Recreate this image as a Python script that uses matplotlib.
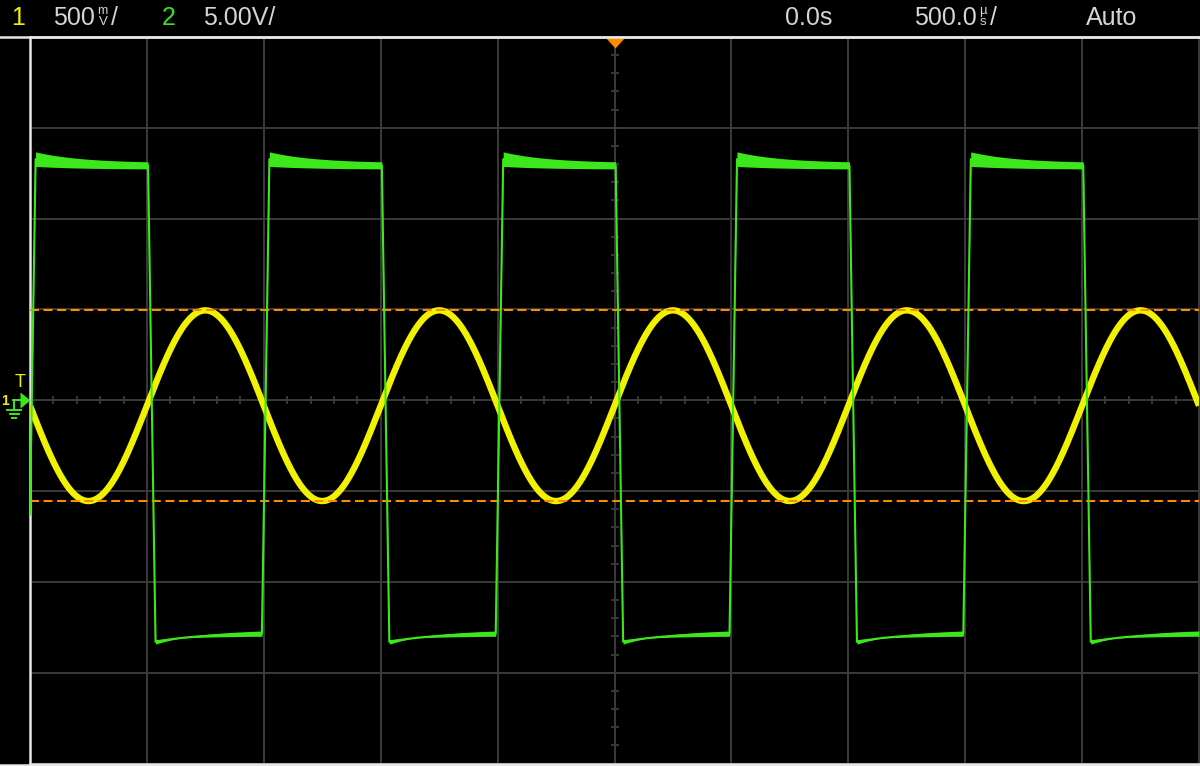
import numpy as np
import matplotlib.pyplot as plt
from matplotlib.lines import Line2D

W, H = 1200, 766

# scope settings
ch1_scale = 0.5      # V/div
ch2_scale = 5.0      # V/div
time_scale = 0.5     # ms/div
n_hdiv, n_vdiv = 10, 8

# channel 1: sine
sine_freq = 1.0          # kHz
sine_amp = 0.525         # V
sine_offset = -0.03      # V
cursor_levels = [0.495, -0.555]   # V (max / min markers)

# channel 2: comparator output (square wave)
sq_high = 12.9
sq_low = -12.8
rise_starts = [-2.508, -1.508, -0.508, 0.492, 1.492]   # ms
fall_starts = [-1.995, -0.995, 0.005, 1.005, 2.005]    # ms
edge_time = 0.032        # ms
overshoot_high = 0.6     # V
overshoot_low = 0.8      # V
settle_tau = 0.2         # ms
trace_noise = 0.035      # div, half height of the noise band

# header texts
TXT = "#d4d4d4"
header = [("1", 11, "#f0f000"), ("500", 53, TXT), ("/", 111, TXT),
          ("2", 162, "#33e61a"), ("5.00V/", 203, TXT),
          ("0.0s", 785, TXT), ("500.0", 914, TXT), ("/", 990, TXT),
          ("Auto", 1086, TXT)]

YEL = "#f2f200"
GRN = "#3ce81c"
ORG = "#ff8a00"
GRID = "#3a3a3a"
FONT = ["Liberation Sans", "DejaVu Sans"]


def fx(x):
    return x / W


def fy(y):
    return 1 - y / H


t = np.linspace(-2.5, 2.5, 20001)
ch1 = sine_amp * np.sin(2 * np.pi * sine_freq * t) + sine_offset

edge_t = np.array(rise_starts + fall_starts)
edge_d = np.array([1] * len(rise_starts) + [-1] * len(fall_starts))
order = np.argsort(edge_t)
edge_t, edge_d = edge_t[order], edge_d[order]


def square(os_scale):
    idx = np.clip(np.searchsorted(edge_t, t, side="right") - 1, 0, None)
    dt = t - edge_t[idx]
    d = edge_d[idx]
    start = np.where(d > 0, sq_low, sq_high)
    end = np.where(d > 0, sq_high, sq_low)
    os = np.where(d > 0, overshoot_high, -overshoot_low) * os_scale
    frac = np.clip(dt / edge_time, 0, 1)
    ramp = start + (end + os - start) * frac
    settle = end + os * np.exp(-(dt - edge_time) / settle_tau)
    return np.where(dt < edge_time, ramp, settle)


ch2_top = square(1.0)
ch2_bot = square(0.25)
ch2_mid = (ch2_top + ch2_bot) / 2

fig = plt.figure(figsize=(W / 100, H / 100), dpi=100, facecolor="black")
ax = fig.add_axes([fx(30), fy(763.5), fx(1199) - fx(30), fy(37) - fy(763.5)])
ax.set_facecolor("black")
half_t = n_hdiv / 2 * time_scale
ax.set_xlim(-half_t, half_t)
ax.set_ylim(-n_vdiv / 2, n_vdiv / 2)
ax.set_xticks(np.arange(-half_t, half_t + 1e-9, time_scale))
ax.set_yticks(np.arange(-n_vdiv / 2, n_vdiv / 2 + 1e-9, 1))
ax.tick_params(length=0, labelbottom=False, labelleft=False)
ax.grid(True, color=GRID, lw=1.4)
for side in ["left", "top", "bottom"]:
    ax.spines[side].set_color("#e6e6e6")
    ax.spines[side].set_linewidth(1.8)
ax.spines["right"].set_color(GRID)
ax.spines["right"].set_linewidth(1.4)

# small ticks on the centre axes
ax.plot(np.arange(-half_t, half_t + 1e-9, time_scale / 5), np.zeros(51), ls="none",
        marker="|", ms=6, mew=1.3, color=GRID)
ax.plot(np.zeros(41), np.arange(-4, 4 + 1e-9, 0.2), ls="none",
        marker="_", ms=6, mew=1.3, color=GRID)

# cursor lines
for lev in cursor_levels:
    ax.axhline(lev / ch1_scale, color=ORG, lw=1.5, dashes=(4.3, 2.2), zorder=4)

# channel 1
ax.plot(t, ch1 / ch1_scale, color=YEL, lw=4.6, zorder=3, solid_capstyle="butt")

# channel 2
ax.fill_between(t, ch2_bot / ch2_scale - trace_noise, ch2_top / ch2_scale + trace_noise,
                color=GRN, lw=0, zorder=5)
ax.plot(t, ch2_mid / ch2_scale, color=GRN, lw=1.5, zorder=5)

# trigger position marker and ch2 ground marker
ax.plot([0], [n_vdiv / 2], marker=[(-1, 0), (1, 0), (0, -1.1)], ms=15.8,
        color=ORG, mew=0, clip_on=False, zorder=6)
ax.plot([-half_t], [0], marker=[(0, 0), (-1, 0.8), (-1, -0.8)], ms=14.4,
        color=GRN, mew=0, clip_on=False, zorder=6)

# frame lines across the whole width
fig.add_artist(Line2D([0, 1], [fy(37), fy(37)], color="#e6e6e6", lw=1.8))
fig.add_artist(Line2D([0, 1], [fy(764.5), fy(764.5)], color="#e6e6e6", lw=1.8))

# ground symbol
g = dict(color=GRN, lw=1.4)
fig.add_artist(Line2D([fx(13), fx(21)], [fy(400), fy(400)], **g))
fig.add_artist(Line2D([fx(14), fx(14)], [fy(400), fy(410)], **g))
fig.add_artist(Line2D([fx(7), fx(21)], [fy(410), fy(410)], **g))
fig.add_artist(Line2D([fx(9.5), fx(18.5)], [fy(414), fy(414)], **g))
fig.add_artist(Line2D([fx(12), fx(16)], [fy(418), fy(418)], **g))
fig.text(fx(15), fy(387), "T", color=YEL, fontsize=13, family=FONT)
fig.text(fx(1), fy(405), "1", color=YEL, fontsize=10, family=FONT, weight="bold")

# header
for s, x, c in header:
    fig.text(fx(x), fy(25), s, color=c, fontsize=18, family=FONT, va="baseline")
fig.text(fx(97), fy(14), "m", color=TXT, fontsize=9, family=FONT, va="baseline")
fig.text(fx(99), fy(25), "V", color=TXT, fontsize=9.5, family=FONT, va="baseline")
fig.text(fx(979), fy(14), "\u00b5", color=TXT, fontsize=9.5, family=FONT, va="baseline")
fig.text(fx(980), fy(25), "s", color=TXT, fontsize=9.5, family=FONT, va="baseline")

fig.savefig("out.png", dpi=100, facecolor="black")
